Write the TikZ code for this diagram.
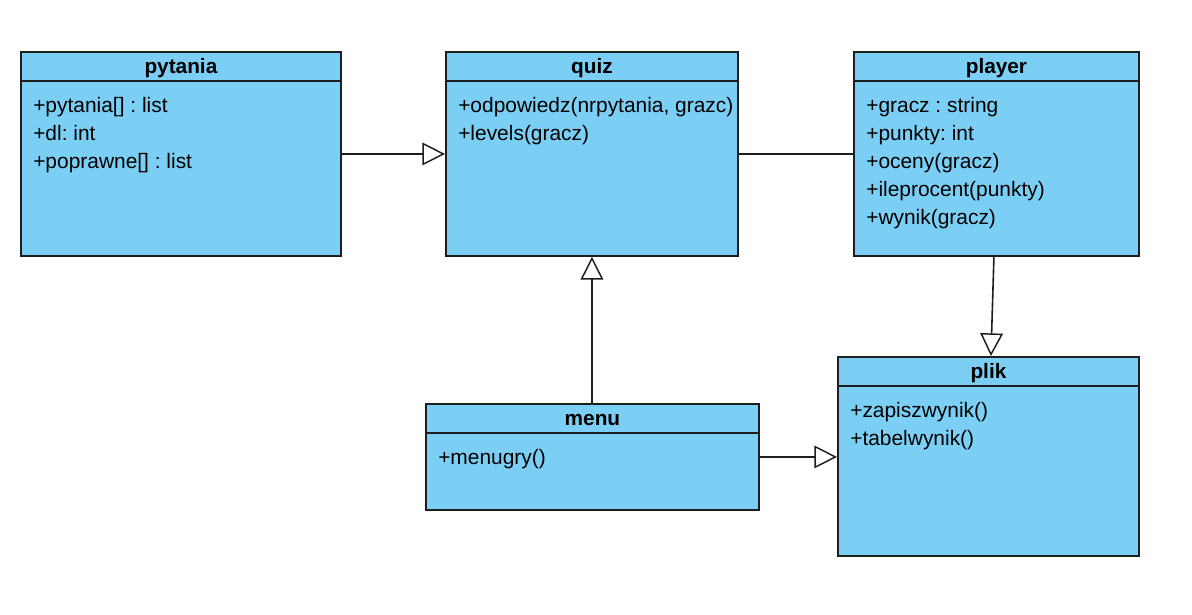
\documentclass[tikz,border=0pt]{standalone}
\usepackage{fontspec}
\setmainfont{Liberation Sans}
\usetikzlibrary{arrows.meta,calc}
\definecolor{classfill}{HTML}{7BCFF4}
\definecolor{edge}{HTML}{1E1E1E}
\frenchspacing
\begin{document}
\begin{tikzpicture}[x=0.75pt,y=-0.75pt,
  classbox/.style 2 args={draw=edge,fill=classfill,line width=1.4pt,inner sep=0pt,
    minimum width=#1*0.75pt,minimum height=#2*0.75pt,anchor=north west},
  headtext/.style={font=\fontsize{15.6}{21}\selectfont\bfseries,inner sep=0pt,anchor=base},
  membertext/.style={font=\fontsize{15.7}{21}\selectfont,inner sep=0pt,anchor=base west},
  divider/.style={draw=edge,line width=1.4pt},
  link/.style={draw=edge,line width=1.2pt},
  inherit/.style={link,-{Triangle[fill=white,length=17pt,width=17pt,line width=1.1pt]}}
]
\useasboundingbox (0,0) rectangle (1192,614);

% class boxes
\node[classbox={320}{204}] (pytania) at (20,51) {};
\node[classbox={292}{204}] (quiz) at (445,51) {};
\node[classbox={285}{204}] (player) at (853,51) {};
\node[classbox={301}{199}] (plik) at (837,356) {};
\node[classbox={333}{106}] (menu) at (425,403) {};

% header separators
\foreach \c in {pytania,quiz,player,plik,menu}
  \draw[divider] ($(\c.north west)+(0,30)$) -- ($(\c.north east)+(0,30)$);

% class names
\foreach \c in {pytania,quiz,player,plik,menu}
  \node[headtext] (\c T) at ($(\c.north)+(0,22)$) {\c};

% members, one line every 28 units below the header
\foreach \t [count=\i] in {+pytania[] : list,+dl: int,+poprawne[] : list}
  \node[membertext] (pytaniaM\i) at ($(pytania.north west)+(13,33+28*\i)$) {\t};
\foreach \t [count=\i] in {{+odpowiedz(nrpytania, grazc)},+levels(gracz)}
  \node[membertext] (quizM\i) at ($(quiz.north west)+(13,33+28*\i)$) {\t};
\foreach \t [count=\i] in {+gracz : string,+punkty: int,+oceny(gracz),+ileprocent(punkty),+wynik(gracz)}
  \node[membertext] (playerM\i) at ($(player.north west)+(13,33+28*\i)$) {\t};
\foreach \t [count=\i] in {+zapiszwynik(),+tabelwynik()}
  \node[membertext] (plikM\i) at ($(plik.north west)+(13,33+28*\i)$) {\t};
\node[membertext] (menuM1) at ($(menu.north west)+(13,61)$) {+menugry()};

% relations
\draw[inherit] (pytania.east) -- (quiz.west);
\draw[link] (quiz.east) -- (player.west);
\coordinate (menuTop) at ($(menu.north)+(-0.5,0)$);
\draw[inherit] (menuTop) -- (menuTop |- quiz.south);
\draw[inherit] ($(player.south)+(-2.5,0)$) -- ($(plik.north)+(2.5,0)$);
\draw[inherit] (menu.east) -- (menu.east -| plik.west);
\end{tikzpicture}
\end{document}
